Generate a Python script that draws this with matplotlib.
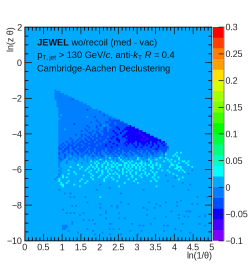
import numpy as np
import matplotlib
matplotlib.use("Agg")
import matplotlib.pyplot as plt
from matplotlib.colors import ListedColormap, BoundaryNorm
from matplotlib.ticker import MultipleLocator, FuncFormatter
from io import BytesIO

plt.rcParams['font.family'] = ['Liberation Sans', 'DejaVu Sans']
plt.rcParams['mathtext.fontset'] = 'custom'
plt.rcParams['mathtext.rm'] = 'Liberation Sans'
plt.rcParams['mathtext.it'] = 'Liberation Sans:italic'
plt.rcParams['mathtext.bf'] = 'Liberation Sans:bold'

# level codes for histogram cells
level_values = {'.': 0.01, 'a': -0.01, 'b': -0.03, 'c': -0.05, 'd': -0.07, '+': 0.03, '#': 0.05}
background = 0.01

# dense part: first row is ln(z theta) in [-1.6,-1.5], first column ln(1/theta) in [0.8,0.85]
first_x = 0.8
first_y = -1.5
dense_rows = [
 "a", "aaa", "aaaaa", "aaaaaaa", "aaaaaaaaa",
 "aaaaaaaaab a",
 ".aaaaaaaaa aaa",
 ".aaaaaaaaa aaaaa",
 ".aaaaaaaaa aaaaaaa",
 ".aaaaaaaaa aaaaaaaaa",
 "..aaaaaaaa aaaaaaaaa a",
 "..aaaaaaaa aaaaaaabaa aaa",
 "..aaaaaaaa aaaaaaaaaa aaaab",
 "..aaaaaaaa aaaaaaaaaa aaaaaaa",
 "..a.aaaaaa aaaaaaaaaa aaaaaabaa",
 "..aaaaaaaa aaaaaaa.aa abaaaaaaaa a",
 "...aaaaaaa aaaaaaaaaa aaaaaaaaab aaa",
 "..aaaaaaaa aaaaaaaaaa aabaaaaaab bbbbb",
 "..aaaaaaaa aaaaaaaaab aaabaaabba bbabbbb",
 "..aaaaaaaa baaaaaaaaa aaaabaaaab bbabbbbbb",
 "..aaaaaaaa aaaaaaabaa aababa.aab bbbbbbbbbb c",
 "..aaaaaaaa aaaaaaaaba aabaaabbaa bbbcbbbbcc ccc",
 "..aaa.aaaa aaaaaabaaa aaabaabbab bbbbcbbccc ccccc",
 "..aaaaaaaa aaaabaabaa babaabbbab bcbbbbcbbc ccccccc",
 "..aaaaaaaa aaaaaaaabb aabbaabbbb bbcbbcbbcc cccccdccc",
 "..aaaaaaaa abaababaab ababbabbbb bbbcbbbccc ccccccdccc c",
 "..aaaaaaaa aaaabaabba bbabbbbbab bcbbbbccbc cccccccdcc ccc",
 "..aaaaaaba aaabaababb abbbabbbbb cbbcbbbbcc cccccccccd ccccc",
 "..aaaaaaab aabababbab bbabbbbabb bbbccbbbbc ccccccdcdc ccccccc",
 "..aaaabaab ababbbabbb babbbbabbc bbbbcbbbcc cccbcccccc cbcccbcbc",
 "..aabaabab babbabbbab bbbbabbbbb bcbbbbbcbc bcbbcbcccb cbcbcbbcbb",
 "..abababbb abbbbabbbb bbabbbbcbb bbbcbbbbcb bbcbcbbcbc bbcbbcbbcb",
 "..bababbab bbababbbab bbbbbbbbbb cbbbbbbbbb bbbcbbcbbb bcbbbcbbbb b",
 "..bbabbbab babbbbbabb babbbbbabb bbbbabbbbb bbbbbbbbbb bbbbcbbbbb a",
 "..aabbabaa bbabbbabab babbbababb bbabbbabbb abbbababba bbabbbabbb",
 "..babaabab abbababbab abbabaabab babbabaaba baabbaabab abbabaaab. .....+.+..",
 "..baabaaab aabaabaaba aababaaaba abaabaabaa abaaabaaab aabaaaa.a+ ....+.....",
 "..aaabaa.a aaaaba.aaa baaaaba.aa aabaa.aaba aaa.aabaaa a.aaaa..a. ...+.+....",
 "..baab.aaa .aa.aa.a.a aa.aaaa.a+ aa.a+a.a.a .a.a+.a.aa ..a...+..+ ......+...",
 "..aba..aa. a.a..a.a.. a.a.+.a.a. .a.a.+a..a ..a.+..a.. +...+..... +.+...+...",
 "..aa..a... .a.....a.+ ..+.a..+.. +..a..+..+ .+..a.+..a .+......+. .+..+...++ .+",
 "..a...a... ....a..... .+.+..+.+. .+.+...++. +..+.++.+. .+..+..... ..+...+... +...",
 "..a....... ..+......+ ..+..+..+. +.+.++.+.+ .++.+.+.+. +.+.+.+... ..++.+.... .+..",
 "..a.....+. ....+...+. +.+..+.+.. ++.+...+.+ .+.+.+.+.. .++...+... .+...+++.. ...+",
 "...a...... ...+...+.. .+.+...+.+ ...+..+.+. +..+.+..+. ..+..+.... ....++.+.. ....",
 "..a....+.. ......+..+ ...+.+..+. +...+.+..+ .+...+.+.. .+.....+.. +.....+.+. ...a",
 "...a...... +.......+. ..+..+..+. ..+...+.+. +..+....+. ..+.+..... .+.......+ ....",
 "..a....+.. .+.......+ .....+...+ .+.+..+... +..+..+.+. +..+...... ...+...... .a..",
 "..a.+..... .....+.... +...+...+. ....+...+. .+...+...+ ...+.....a .....+.... ....",
 ".a..+.+... .........+ ...+...+.. +...+..... .+....+... ..+..+.... ....a...+. ....",
 "a.+....... ....+..... +.....+... .+.......+ ...+...... ...+...... ......+... ....",
 "..+....+.. ...+...+.. ......+... ...+...... ..+....... .+..+..... a......... ....",
 "...+..+... ......+... .......... .......+.. ....+..... .......... ........a. ....",
 "...++..... +......... ....a..... .......... .......... .......... .......... ..a.",
 "....+..... ...+...... .......... ....+..... .......... ....+..... ...a...... ....",
 ".......... .......... .........a .......... .......... .......... .......... ....",
 "..a....... .......... ..a....... .......... .......a.. .......... .......... .a..",
]

# sparse cells below the dense part, same column/row numbering
sparse_cols = [5, 8, 35, 10, 8, 16, 35, 17, 24, 39, 50, 65, 65, 67, 59, 54, 56, 73, 76, 76, 81,
               9, 11, 24, 30, 33, 33, 47, 49, 53, 4, 6, 8, 10, 27, 27, 24, 34, 15, 13, 49, 53,
               62, 66, 66, 69, 71, 71, 70, 72, 77, 80, 80, 59, 15, 18, 20, 9, 9, 21, 29, 30,
               34, 37, 27, 41, 45, 47, 51, 58, 60, 68, 77, 80, 64, 4, 5, 6, 4, 5, 6, 4, 5,
               7, 17, 20, 21, 29, 31, 34, 35, 29, 40, 58, 46, 67, 12, 44, 72, 25]
sparse_rows = [58, 58, 58, 60, 60, 60, 63, 63, 64, 64, 63, 63, 65, 62, 63, 64, 65, 64, 64, 60, 60,
               65, 65, 66, 65, 65, 66, 66, 67, 66, 67, 69, 69, 69, 68, 69, 70, 69, 69, 70, 70, 72,
               68, 70, 72, 71, 71, 68, 68, 68, 71, 70, 71, 71, 73, 73, 73, 74, 75, 75, 75, 75,
               72, 72, 72, 75, 76, 76, 75, 76, 76, 75, 75, 76, 78, 76, 76, 76, 77, 77, 77, 78, 78,
               79, 78, 79, 81, 78, 78, 78, 81, 81, 79, 79, 79, 79, 80, 81, 80, 80]
cyan_col = [24]
cyan_row = [60]

x_edges = np.linspace(0, 5, 101)
y_edges = np.linspace(-10, 2, 121)

z = np.full((120, 100), background)
ix0 = int(round(first_x / 0.05))
iy0 = int(round((first_y + 10) / 0.1)) - 1
for r, row in enumerate(dense_rows):
    for c, ch in enumerate(row.replace(" ", "")):
        if ix0 + c < 100:
            z[iy0 - r, ix0 + c] = level_values[ch]
for c, r in zip(sparse_cols, sparse_rows):
    z[iy0 - r, ix0 + c] = level_values['a']
for c, r in zip(cyan_col, cyan_row):
    z[iy0 - r, ix0 + c] = level_values['+']

palette = ['#7f00ff', '#4a00ff', '#1000ff', '#0050ff', '#0080ff', '#00aaff', '#00ffff', '#00ffc0',
           '#00ff80', '#00ff40', '#00ff00', '#40ff00', '#80ff00', '#a8ff00', '#d8ff00', '#ffe000',
           '#ffa000', '#ff8000', '#ff4000', '#ff0000']
levels = np.linspace(-0.1, 0.3, 21)
cmap = ListedColormap(palette)
norm = BoundaryNorm(levels, cmap.N)

W, H = 249, 268
fig = plt.figure(figsize=(W / 100, H / 100), dpi=100)
ax = fig.add_axes([24.7 / W, (H - 240.7) / H, 187 / W, 213.7 / H])
ax.pcolormesh(x_edges, y_edges, z, cmap=cmap, norm=norm, linewidth=0)
ax.set_xlim(0, 5)
ax.set_ylim(-10, 2)
ax.xaxis.set_major_locator(MultipleLocator(0.5))
ax.xaxis.set_minor_locator(MultipleLocator(0.1))
ax.yaxis.set_major_locator(MultipleLocator(2))
ax.yaxis.set_minor_locator(MultipleLocator(0.5))
ax.tick_params(which='major', direction='in', top=True, right=True, length=5, width=0.6, labelsize=6.4, pad=2, colors='#222222')
ax.tick_params(which='minor', direction='in', top=True, right=True, length=2.5, width=0.6)
ax.xaxis.set_major_formatter(FuncFormatter(lambda v, p: f"{v:g}".replace("-", "−")))
ax.yaxis.set_major_formatter(FuncFormatter(lambda v, p: f"{v:g}".replace("-", "−")))
for s in ax.spines.values():
    s.set_linewidth(0.6)
fig.text(212 / W, 1 - 256 / H, "ln(1/θ)", ha='right', va='center', fontsize=6.4, color='#222222')
fig.text(11 / W, 1 - 27 / H, "ln(z θ)", ha='center', va='top', rotation=90, fontsize=6.4, color='#222222')

fig.text(37 / W, 1 - 43 / H, r"$\mathbf{JEWEL}$ wo/recoil (med - vac)", fontsize=6.65, va='center', color='#111111')
fig.text(37 / W, 1 - 56 / H, r"p$_{\mathrm{T,jet}}$ > 130 GeV/$c$, anti-$k_{\mathrm{T}}$ $R$ = 0.4", fontsize=6.65, va='center', color='#111111')
fig.text(37 / W, 1 - 69 / H, "Cambridge-Aachen Declustering", fontsize=6.65, va='center', color='#111111')

cax = fig.add_axes([213 / W, (H - 240.7) / H, 11 / W, 213.7 / H])
cax.pcolormesh([0, 1], levels, np.array(levels[:-1] + 0.01).reshape(-1, 1), cmap=cmap, norm=norm)
cax.set_xticks([])
cax.set_ylim(-0.1, 0.3)
cax.yaxis.tick_right()
cax.set_yticks(np.arange(-0.1, 0.301, 0.05))
cax.set_yticklabels(["−0.1", "−0.05", "0", "0.05", "0.1", "0.15", "0.2", "0.25", "0.3"])
cax.tick_params(axis='y', direction='in', length=4, width=0.6, labelsize=6.4, pad=1, colors='#222222')
for k, s in cax.spines.items():
    s.set_visible(k == 'right')
    s.set_color('#888888')
    s.set_linewidth(0.7)

# render finer, then average down to the requested size (the reference is a soft downscale)
scale = 4
buf = BytesIO()
fig.savefig(buf, format="png", dpi=100 * scale)
buf.seek(0)
img = plt.imread(buf)[:, :, :3]
small = img[:H * scale, :W * scale].reshape(H, scale, W, scale, 3).mean(axis=(1, 3))
plt.imsave("out.png", small)
